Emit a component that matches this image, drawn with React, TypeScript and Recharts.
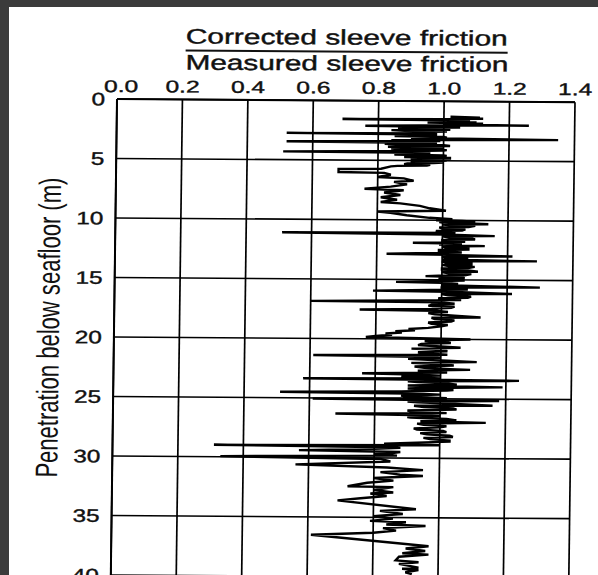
import { LineChart, Line, XAxis, YAxis, CartesianGrid } from 'recharts'

const xTicks = [0, 0.2, 0.4, 0.6, 0.8, 1.0, 1.2, 1.4]
const yTicks = [0, 5, 10, 15, 20, 25, 30, 35, 40]

const titleTop = 'Corrected sleeve friction'
const titleBottom = 'Measured sleeve friction'
const depthLabel = 'Penetration below seafloor (m)'

// [depth below seafloor (m), corrected / measured sleeve friction]
const top5m: [number, number][] = [
  [1.3, 1.02], [1.35, 1.11], [1.4, 1.04], [1.45, 1.12], [1.5, 1.0], [1.55, 0.69], [1.6, 1.02],
  [1.65, 1.08], [1.7, 0.96], [1.75, 1.1], [1.8, 0.95], [1.85, 1.12], [1.95, 1.0], [2.0, 1.26],
  [2.05, 0.93], [2.1, 0.76], [2.15, 1.0], [2.2, 1.05], [2.25, 0.9], [2.3, 0.86], [2.35, 1.0],
  [2.4, 1.02], [2.45, 0.84], [2.5, 0.88], [2.55, 1.01], [2.6, 0.92], [2.7, 0.98], [2.75, 0.52],
  [2.8, 0.9], [2.85, 0.98], [2.9, 0.88], [2.95, 0.85], [3.0, 1.0], [3.05, 1.01], [3.1, 0.9],
  [3.2, 1.35], [3.25, 0.95], [3.3, 0.84], [3.35, 0.99], [3.45, 0.52], [3.5, 0.9], [3.55, 0.98],
  [3.6, 0.82], [3.65, 0.87], [3.7, 1.0], [3.75, 1.02], [3.8, 0.88], [3.85, 0.83], [3.9, 1.0],
  [3.95, 0.99], [4.0, 0.84], [4.05, 0.86], [4.1, 1.01], [4.15, 1.0], [4.2, 0.9], [4.3, 0.51],
  [4.35, 0.92], [4.4, 0.96], [4.45, 0.86], [4.5, 0.85], [4.55, 1.0], [4.6, 1.01], [4.65, 0.9],
  [4.7, 0.88], [4.75, 1.02], [4.8, 1.02], [4.85, 0.92], [4.9, 0.9], [4.95, 1.01], [5.0, 1.0],
  [5.05, 0.9], [5.1, 0.92], [5.15, 1.0], [5.2, 0.97], [5.25, 0.89], [5.3, 0.88], [5.35, 0.96],
  [5.4, 0.95], [5.45, 0.86], [5.5, 0.84],
]

const upper: [number, number][] = [
  [5.7, 0.81], [5.75, 0.68], [6.0, 0.68], [6.05, 0.82], [6.2, 0.84], [6.4, 0.8], [6.5, 0.88],
  [6.7, 0.91], [6.8, 0.85], [7.0, 0.89], [7.2, 0.84], [7.4, 0.76], [7.5, 0.88], [7.7, 0.82],
  [7.9, 0.87], [8.1, 0.81], [8.3, 0.86], [8.5, 0.81], [8.6, 0.87], [8.8, 0.93], [9.0, 0.96],
  [9.2, 1.01], [9.3, 0.8], [9.4, 0.84], [9.6, 0.89], [9.8, 0.96], [9.9, 1.03],
]

const middle: [number, number][] = [
  [10.0, 0.98], [10.05, 1.06], [10.1, 1.1], [10.15, 0.99], [10.2, 1.0], [10.25, 1.08], [10.3, 1.14],
  [10.35, 1.0], [10.4, 1.02], [10.45, 1.1], [10.55, 1.08], [10.6, 0.99], [10.7, 1.0], [10.75, 1.07],
  [10.85, 1.06], [10.9, 0.98], [11.0, 0.99], [11.05, 1.04], [11.1, 0.51], [11.2, 1.0], [11.3, 1.16],
  [11.35, 1.0], [11.45, 1.02], [11.5, 1.09], [11.6, 1.1], [11.65, 1.0], [11.75, 1.0], [11.8, 1.07],
  [11.9, 0.91], [11.95, 1.04], [12.0, 1.06], [12.05, 0.99], [12.15, 1.13], [12.2, 1.0], [12.3, 1.01],
  [12.35, 1.08], [12.45, 1.08], [12.5, 0.99], [12.6, 0.99], [12.7, 1.06], [12.85, 0.83], [12.9, 1.02],
  [13.0, 1.215], [13.05, 1.0], [13.15, 1.02], [13.2, 1.08], [13.3, 1.0], [13.4, 1.29], [13.45, 1.0],
  [13.55, 1.01], [13.6, 1.09], [13.7, 1.09], [13.75, 1.0], [13.85, 1.02], [13.9, 1.1], [14.0, 1.08],
  [14.05, 1.0], [14.15, 1.0], [14.2, 1.08], [14.3, 1.11], [14.35, 1.0], [14.45, 1.02], [14.5, 1.09],
  [14.6, 1.07], [14.65, 0.99], [14.7, 0.95], [14.75, 1.05], [14.85, 1.07], [14.9, 0.99], [15.0, 1.0],
  [15.05, 1.07], [15.2, 0.86], [15.25, 1.0], [15.35, 1.05], [15.45, 1.0], [15.6, 1.3], [15.65, 1.0],
  [15.75, 1.0], [15.8, 1.08], [15.95, 0.79], [16.0, 1.02], [16.15, 1.215], [16.2, 1.0], [16.3, 1.02],
  [16.4, 1.09], [16.5, 1.08], [16.55, 0.99], [16.65, 1.0], [16.7, 1.06], [16.85, 0.6], [16.9, 1.0],
  [17.0, 1.04], [17.1, 0.97], [17.2, 0.96], [17.25, 1.04], [17.35, 1.03], [17.45, 0.97], [17.55, 0.75],
  [17.6, 0.98], [17.7, 1.02], [17.8, 0.96], [17.9, 0.98], [18.0, 1.04], [18.15, 1.12], [18.2, 0.97],
  [18.3, 0.98], [18.4, 1.04], [18.5, 1.03], [18.6, 0.96], [18.7, 0.97], [18.8, 1.02], [18.9, 1.0],
  [19.05, 0.96], [19.15, 0.9], [19.25, 0.92], [19.35, 0.86], [19.45, 0.88], [19.55, 0.83], [19.65, 0.85],
  [19.75, 0.8], [19.85, 0.77], [19.95, 1.0],
]

const lower: [number, number][] = [
  [20.0, 1.09], [20.1, 0.97], [20.15, 0.95], [20.25, 1.02], [20.3, 1.03], [20.4, 0.94], [20.5, 0.93],
  [20.6, 1.0], [20.7, 1.06], [20.8, 0.91], [20.9, 1.0], [21.0, 1.02], [21.1, 0.93], [21.2, 0.95],
  [21.3, 1.02], [21.4, 0.61], [21.5, 0.97], [21.55, 1.0], [21.65, 0.9], [21.7, 0.93], [21.8, 1.02],
  [21.9, 1.11], [22.0, 0.91], [22.1, 1.0], [22.2, 1.04], [22.3, 0.92], [22.4, 0.95], [22.5, 1.03],
  [22.55, 1.09], [22.65, 0.93], [22.7, 0.97], [22.8, 1.02], [22.9, 0.76], [23.0, 0.95], [23.05, 1.0],
  [23.15, 0.88], [23.2, 0.9], [23.3, 1.0], [23.35, 0.58], [23.45, 1.24], [23.55, 0.9], [23.6, 0.93],
  [23.7, 1.02], [23.8, 1.05], [23.9, 0.9], [24.0, 1.19], [24.1, 0.95], [24.15, 0.9], [24.25, 1.04],
  [24.3, 1.02], [24.4, 0.88], [24.5, 0.51], [24.6, 0.95], [24.65, 1.0], [24.75, 0.88], [24.85, 0.9],
  [24.95, 1.02], [25.05, 0.61], [25.15, 1.18], [25.25, 0.9], [25.3, 0.93], [25.4, 1.03], [25.55, 1.16],
  [25.6, 0.92], [25.7, 0.95], [25.8, 1.04], [25.9, 1.05], [26.0, 0.9], [26.1, 0.92], [26.2, 1.02],
  [26.3, 0.68], [26.4, 0.95], [26.45, 1.0], [26.55, 0.9], [26.6, 0.91], [26.7, 1.02], [26.8, 1.05],
  [26.9, 0.94], [27.0, 1.14], [27.1, 0.93], [27.2, 0.95], [27.3, 1.02], [27.4, 1.0], [27.5, 0.92],
  [27.6, 0.93], [27.7, 1.01], [27.8, 1.02], [27.9, 0.94], [28.0, 0.96], [28.1, 1.03], [28.2, 1.04],
  [28.3, 0.95], [28.4, 0.97], [28.5, 1.03], [28.6, 1.03], [28.7, 0.93], [28.8, 0.83], [28.9, 1.0],
  [29.0, 0.31], [29.1, 0.85], [29.15, 0.88], [29.25, 0.8], [29.4, 0.57], [29.5, 0.88], [29.6, 0.85],
  [29.7, 0.8], [29.8, 0.87], [29.95, 0.33], [30.1, 0.82],
]

const bottom: [number, number][] = [
  [30.3, 0.85], [30.6, 0.56], [30.8, 0.84], [31.0, 0.95], [31.2, 0.82], [31.4, 0.88], [31.5, 0.95],
  [31.7, 0.8], [31.9, 0.86], [32.1, 0.78], [32.4, 0.72], [32.45, 0.86], [32.7, 0.8], [32.9, 0.86],
  [33.0, 0.79], [33.2, 0.84], [33.4, 0.76], [33.6, 0.69], [34.3, 0.93], [34.45, 0.82], [34.7, 0.89],
  [34.9, 0.8], [35.1, 0.86], [35.3, 0.79], [35.4, 0.9], [35.6, 0.84], [35.7, 0.96], [35.9, 0.83],
  [36.1, 0.87], [36.3, 0.8], [36.5, 0.61], [37.4, 0.97], [37.6, 0.9], [37.8, 0.96], [38.0, 0.89],
  [38.1, 0.97], [38.3, 0.88], [38.6, 0.87], [38.75, 0.94], [38.9, 0.88], [39.2, 0.94], [39.3, 0.89],
  [39.4, 0.94], [39.6, 0.9], [39.75, 0.92],
]

const data = [...top5m, ...upper, ...middle, ...lower, ...bottom].map(([depth, ratio]) => ({ depth, ratio }))

const font = '"Liberation Sans", Arial, sans-serif'

const XTick = ({ x, y, payload }: any) => (
  <text
    x={x + (payload.value === 0 ? 4 : 0)}
    y={y}
    textAnchor="middle"
    fontFamily={font}
    fontSize={17}
    fill="#111"
    stroke="#111"
    strokeWidth={0.4}
    textLength={34}
    lengthAdjust="spacingAndGlyphs"
  >
    {payload.value.toFixed(1)}
  </text>
)

const YTick = ({ x, y, payload }: any) => {
  const label = String(payload.value)
  return (
    <text
      x={x}
      y={y}
      dy="0.36em"
      textAnchor="end"
      fontFamily={font}
      fontSize={18}
      fill="#111"
      stroke="#111"
      strokeWidth={0.4}
      textLength={label.length * 13.5}
      lengthAdjust="spacingAndGlyphs"
    >
      {label}
    </text>
  )
}

export default function App() {
  return (
    <div style={{ position: 'absolute', left: 0, top: 0, width: 598, height: 575, overflow: 'hidden', background: '#3b3b3b' }}>
      <div style={{ position: 'absolute', left: 9, top: 7, right: 0, bottom: 0, background: '#fff' }} />
      <div
        style={{
          position: 'absolute',
          left: 0,
          top: 0,
          width: 598,
          height: 640,
          transform: 'matrix(1, 0.007, -0.013, 1, 0, 0)',
          transformOrigin: '117px 99px',
        }}
      >
        <LineChart
          width={598}
          height={640}
          data={data}
          layout="vertical"
          margin={{ top: 69, right: 23, bottom: 65, left: 77 }}
          style={{ position: 'absolute', left: 0, top: 0 }}
        >
          <CartesianGrid stroke="#000" strokeWidth={1.7} />
          <XAxis
            type="number"
            orientation="top"
            domain={[0, 1.4]}
            ticks={xTicks}
            interval={0}
            height={30}
            tickSize={0}
            tickMargin={7}
            tickLine={false}
            axisLine={{ stroke: '#000', strokeWidth: 2 }}
            tick={(p: any) => <XTick {...p} />}
          />
          <YAxis
            type="number"
            dataKey="depth"
            domain={[0, 40]}
            ticks={yTicks}
            interval={0}
            width={40}
            tickSize={0}
            tickMargin={12}
            tickLine={false}
            axisLine={{ stroke: '#000', strokeWidth: 2 }}
            tick={(p: any) => <YTick {...p} />}
          />
          <Line
            dataKey="ratio"
            stroke="#000"
            strokeWidth={2.4}
            dot={false}
            isAnimationActive={false}
          />
        </LineChart>
        <svg width={598} height={640} style={{ position: 'absolute', left: 0, top: 0, pointerEvents: 'none' }}>
          <text x={346} y={43} textAnchor="middle" fontFamily={font} fontSize={21} fill="#111" stroke="#111" strokeWidth={0.4} textLength={322} lengthAdjust="spacingAndGlyphs">
            {titleTop}
          </text>
          <line x1={185} x2={507} y1={50} y2={50} stroke="#111" strokeWidth={2} />
          <text x={346.5} y={69} textAnchor="middle" fontFamily={font} fontSize={21} fill="#111" stroke="#111" strokeWidth={0.4} textLength={323} lengthAdjust="spacingAndGlyphs">
            {titleBottom}
          </text>
          <text
            x={62}
            y={328}
            transform="rotate(-90 62 328)"
            textAnchor="middle"
            fontFamily={font}
            fontSize={31}
            fill="#111"
            textLength={300}
            lengthAdjust="spacingAndGlyphs"
          >
            {depthLabel}
          </text>
        </svg>
      </div>
    </div>
  )
}
